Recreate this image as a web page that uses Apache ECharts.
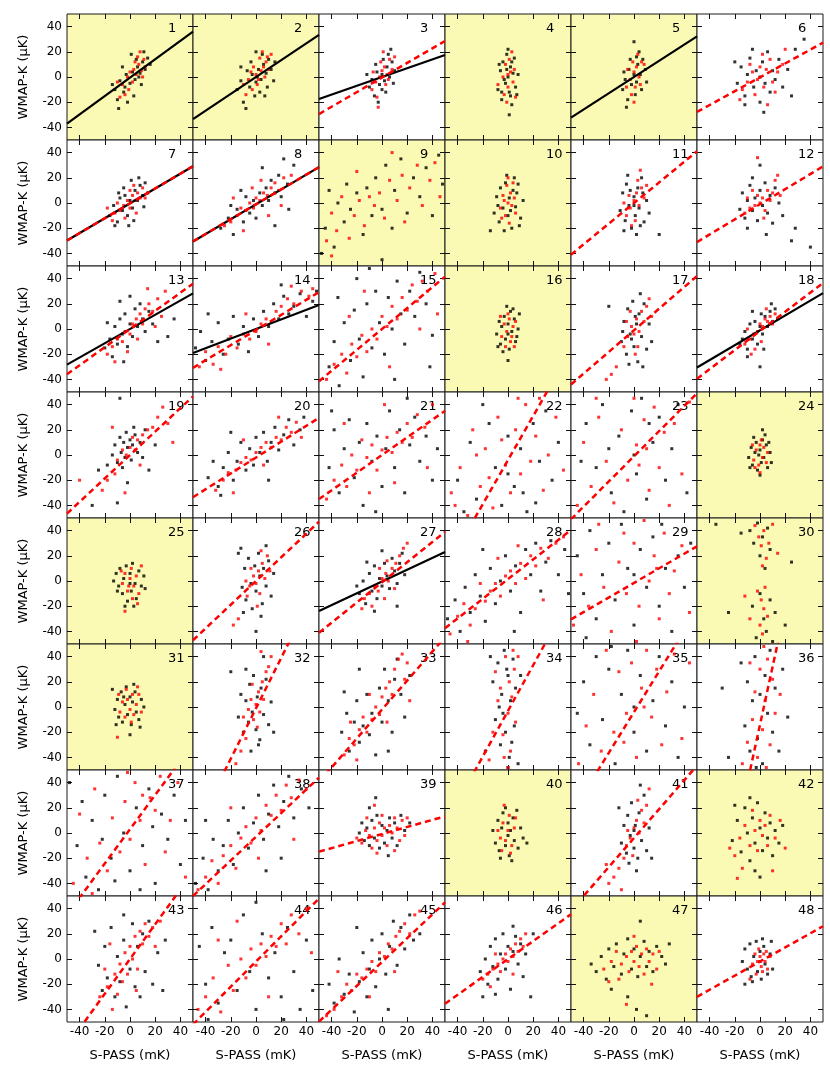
<!DOCTYPE html>
<html><head><meta charset="utf-8">
<script src="https://cdn.jsdelivr.net/npm/echarts@6/dist/echarts.min.js"></script>
<style>html,body{margin:0;padding:0;background:#fff}#c{width:830px;height:1068px}</style>
</head><body><div id="c"></div>
<script>
// ---- estimated point clouds, panel by panel (b = black, r = red) ----
const b1=[[-12,-10],[-8,-3],[-5,-12],[-3,2],[0,-5],[2,4],[4,-2],[6,8],[8,3],[10,12],[12,6],[14,15],[-10,-18],[-14,-6],[-2,-20],[3,-15],[5,14],[9,-6],[16,10],[-6,8],[1,18],[-9,-25],[11,20],[7,0],[-4,-8]];
const r1=[[-6,-6],[-2,0],[0,4],[3,6],[5,2],[7,10],[9,5],[11,14],[-4,-14],[-8,-16],[2,-4],[6,16],[12,8],[-1,-10],[4,12],[8,20],[-10,-4],[10,0]];
const b2=[[-15,-10],[-12,-3],[-10,-20],[-7,5],[-5,-8],[-3,2],[0,-4],[2,6],[4,-2],[6,10],[8,3],[10,14],[12,6],[15,12],[-8,-25],[-1,-15],[3,-12],[5,18],[9,-8],[-12,8],[0,20],[14,-3],[-4,12],[7,-15],[1,0]];
const r2=[[-10,-6],[-6,-2],[-3,-10],[0,2],[2,-2],[4,5],[6,8],[8,12],[10,6],[3,15],[-2,8],[5,20],[-8,-14],[12,18],[1,-6],[7,0],[-4,4],[9,16]];
const b3=[[-10,-8],[-8,-2],[-6,-15],[-4,4],[-2,-6],[0,2],[2,-3],[4,8],[6,0],[8,12],[10,5],[-3,-20],[5,18],[-12,2],[3,-12],[1,14],[9,-5],[-5,10],[7,22],[0,-10]];
const r3=[[-8,-10],[-5,-4],[-2,0],[0,5],[2,8],[4,2],[6,14],[8,6],[-4,-16],[3,-6],[-1,12],[10,16],[-7,4],[5,-2],[1,20],[-3,-24]];
const b4=[[-8,-10],[-6,5],[-5,-18],[-4,12],[-2,-5],[-1,18],[0,0],[1,-12],[2,8],[3,-22],[4,3],[5,15],[6,-8],[8,2],[-3,-2],[2,-15],[-7,10],[0,22],[7,-14],[-1,6],[3,12],[-5,-12],[1,-30]];
const r4=[[-4,0],[-2,10],[0,-8],[2,4],[4,-4],[-3,-14],[1,14],[3,20],[-1,-20],[5,6],[-8,-6],[0,2],[6,-16]];
const b5=[[-9,-10],[-7,-2],[-5,-18],[-4,6],[-2,-6],[0,2],[2,-4],[3,10],[5,2],[7,14],[9,6],[-6,-24],[1,-14],[4,20],[10,-4],[-3,14],[6,-10],[0,28],[-8,4],[2,16]];
const r5=[[-6,-8],[-3,-2],[0,4],[2,8],[4,0],[6,12],[-2,-14],[1,-8],[3,18],[-5,6],[5,-6],[8,10],[-1,12],[0,-20]];
const b6=[[-18,-5],[-15,8],[-12,-15],[-10,2],[-8,15],[-5,-8],[-3,5],[0,-20],[0,0],[2,12],[4,-5],[6,20],[8,-12],[10,5],[12,-2],[15,14],[18,-8],[22,6],[-6,22],[-12,-22],[3,-28],[28,22],[35,30],[25,-15],[-20,12]];
const r6=[[-14,-10],[-10,-4],[-6,4],[-2,-2],[0,8],[3,-8],[5,6],[8,14],[10,-4],[14,4],[-4,-14],[2,18],[12,-12],[-8,10],[18,10],[20,22],[-16,-18],[6,-22]];
const b7=[[-16,-10],[-13,-2],[-10,-15],[-8,4],[-6,-6],[-4,6],[-2,-10],[0,2],[2,-4],[4,10],[6,2],[8,14],[10,6],[12,16],[14,8],[-12,-18],[-5,12],[3,-14],[7,20],[-9,8],[1,18],[11,-3],[-1,-18]];
const r7=[[-12,-8],[-8,-6],[-5,-2],[-2,2],[0,-4],[2,6],[4,2],[6,8],[8,4],[10,12],[-10,0],[-4,-12],[3,14],[12,4],[0,10],[-14,-14],[5,-8],[-18,-4]];
const b8=[[-28,-20],[-22,-12],[-18,-25],[-15,-5],[-10,-15],[-8,5],[-5,-8],[-2,2],[0,-12],[3,8],[5,-2],[8,12],[10,2],[12,18],[15,8],[18,22],[20,5],[25,15],[30,30],[-12,10],[22,35],[15,-18],[-20,-2],[26,-5],[5,28]];
const r8=[[-25,-18],[-20,-15],[-15,-10],[-12,-4],[-8,-6],[-5,0],[-2,-4],[0,4],[3,2],[6,8],[9,6],[12,12],[15,16],[18,10],[22,20],[-10,-22],[4,18],[20,-2],[28,22],[-18,4],[10,-10],[-3,12]];
const b9=[[-45,-20],[-42,10],[-38,-35],[-35,0],[-30,-15],[-28,15],[-25,-5],[-20,8],[-15,-25],[-12,12],[-8,-10],[-5,20],[0,-5],[3,30],[8,-20],[10,10],[15,35],[20,-8],[25,20],[30,5],[35,28],[40,-10],[45,38],[-48,-40],[0,-45],[48,15]];
const r9=[[-44,-30],[-40,-8],[-36,-22],[-32,5],[-26,-28],[-22,-10],[-18,2],[-14,-18],[-10,5],[-6,-2],[-2,8],[2,-12],[6,18],[12,2],[16,22],[18,-15],[22,12],[28,30],[32,-2],[38,18],[42,32],[46,5],[-40,-42],[8,40],[-20,25]];
const b10=[[-11,-8],[-9,5],[-7,-15],[-6,12],[-4,-4],[-2,16],[0,-10],[1,4],[3,-20],[4,10],[6,-3],[8,15],[10,-12],[12,2],[-3,-22],[5,20],[-8,-2],[2,-6],[7,8],[-1,22],[-14,-22],[9,-18]];
const r10=[[-6,-4],[-4,6],[-2,-10],[0,0],[2,8],[3,-2],[5,4],[-1,14],[1,-16],[4,16],[-5,-12],[6,-8],[0,20],[-3,2]];
const b11=[[-11,-6],[-9,8],[-7,-14],[-6,15],[-4,-2],[-2,-20],[0,5],[1,-10],[3,12],[4,-4],[6,20],[8,-15],[10,2],[-5,22],[2,-25],[-8,-22],[7,8],[12,-8],[0,-2],[-3,10],[20,-25],[5,-18]];
const r11=[[-6,-10],[-3,-4],[0,2],[2,8],[4,-2],[6,12],[-4,6],[1,-14],[3,18],[8,4],[-8,0],[5,26],[-2,-18],[10,14]];
const b12=[[-16,-5],[-14,8],[-12,-12],[-10,2],[-8,14],[-6,-6],[-4,4],[-2,-14],[0,10],[2,-2],[4,16],[6,-8],[8,6],[10,-16],[12,12],[15,0],[18,-10],[-6,20],[0,30],[28,-20],[40,-35],[25,-30],[-10,-20],[5,-25]];
const r12=[[-12,-8],[-8,-4],[-4,-2],[-2,6],[0,0],[2,4],[4,-6],[6,10],[8,2],[10,8],[-6,10],[12,18],[-10,4],[3,-12],[14,22],[-2,36],[16,6]];
const b13=[[-20,-15],[-16,-8],[-14,-22],[-12,2],[-10,-12],[-8,8],[-6,-4],[-4,12],[-2,-14],[0,4],[2,-6],[4,16],[6,2],[8,20],[10,8],[12,-2],[15,14],[18,4],[-8,22],[0,26],[-5,-26],[30,-6],[35,8],[22,-10],[-18,5]];
const r13=[[-18,-20],[-14,-14],[-10,-8],[-6,-10],[-4,-2],[0,-4],[2,4],[5,8],[8,12],[10,4],[12,16],[15,20],[18,14],[22,24],[25,10],[28,30],[-2,-18],[6,-8],[-12,-26],[20,2],[14,32]];
const b14=[[-48,-15],[-44,-2],[-40,-25],[-35,-10],[-30,5],[-26,-20],[-22,-8],[-18,10],[-14,-12],[-10,2],[-6,-18],[-2,8],[2,-6],[6,14],[10,2],[14,20],[18,8],[22,26],[26,12],[30,18],[35,28],[40,10],[45,22],[-38,12],[20,35],[48,30]];
const r14=[[-45,-30],[-40,-18],[-34,-28],[-30,-14],[-24,-20],[-20,-6],[-15,-15],[-10,-4],[-5,-8],[0,-2],[4,4],[8,8],[12,6],[16,14],[20,18],[25,24],[30,20],[36,30],[42,26],[-28,-32],[10,-12],[28,34],[-8,12],[45,32]];
const b15=[[-42,-30],[-38,-10],[-34,-45],[-30,5],[-25,-25],[-22,15],[-18,-8],[-15,-38],[-12,20],[-8,-15],[-5,30],[-2,5],[2,-20],[5,25],[8,0],[12,38],[15,12],[18,-12],[22,30],[26,10],[30,45],[35,20],[40,-5],[-20,40],[10,-40],[-35,25],[38,-30],[-10,48]];
const r15=[[-44,-40],[-38,-28],[-32,-20],[-28,-35],[-24,-12],[-20,-22],[-16,-5],[-12,-18],[-8,0],[-4,-8],[0,10],[4,2],[8,18],[12,8],[16,25],[20,15],[24,35],[28,22],[32,38],[36,30],[42,44],[-26,10],[6,-30],[-14,30],[30,0],[44,12]];
const b16=[[-9,-4],[-7,6],[-6,-12],[-5,2],[-3,10],[-2,-8],[0,4],[1,-16],[2,14],[3,-2],[5,8],[6,-10],[8,0],[9,12],[-4,-18],[0,-4],[4,16],[-8,-14],[7,-6],[-1,18],[0,-25]];
const r16=[[-5,-6],[-3,4],[-1,-2],[1,8],[2,-10],[4,2],[-6,10],[3,-6],[0,12],[6,6],[-2,-14],[5,-14]];
const b17=[[-10,-10],[-8,6],[-6,-20],[-5,16],[-3,-4],[-1,22],[0,-14],[2,4],[3,-26],[4,12],[6,-6],[8,20],[10,-16],[12,4],[14,-10],[-4,-28],[5,28],[-9,-2],[1,10],[-20,18],[7,-30],[-2,-8]];
const r17=[[-8,-14],[-5,-6],[-2,2],[0,-4],[2,8],[4,-2],[6,14],[8,6],[10,18],[-3,14],[3,-14],[12,24],[-6,6],[1,-20],[-14,-30],[-18,-36],[-22,-40],[14,10]];
const b18=[[-14,-8],[-12,-2],[-10,-16],[-8,4],[-6,-8],[-4,6],[-2,-12],[0,2],[2,-4],[4,10],[6,2],[8,14],[10,6],[12,16],[14,8],[-6,14],[3,-16],[-10,-22],[9,20],[-16,-12],[0,-30],[1,12]];
const r18=[[-12,-12],[-8,-8],[-5,-4],[-2,-2],[0,4],[2,2],[4,8],[6,6],[8,10],[10,4],[-4,-16],[5,16],[-10,0],[12,12],[1,-10],[-7,-20]];
const b19=[[-14,0],[-12,8],[-10,-6],[-8,14],[-7,2],[-5,10],[-4,-2],[-3,18],[-2,6],[0,12],[1,-4],[2,8],[4,16],[6,2],[8,10],[10,-2],[-18,-8],[-25,-12],[-6,-10],[3,22],[-10,-38],[-30,-40],[12,20],[-2,-22],[20,8],[15,-12],[-8,45]];
const r19=[[-10,-4],[-6,4],[-3,0],[0,6],[2,14],[4,4],[6,12],[10,16],[14,20],[18,22],[22,30],[26,38],[-12,-15],[-18,-20],[-22,-28],[-14,22],[8,-8],[30,25],[-4,-30],[34,10],[-40,-20]];
const b20=[[-38,-18],[-34,-5],[-30,-25],[-26,-10],[-22,2],[-18,-20],[-15,-5],[-12,10],[-8,-12],[-5,5],[-2,-8],[0,14],[3,2],[6,18],[9,-5],[12,10],[15,22],[18,4],[22,16],[26,28],[30,8],[35,20],[-20,18],[10,-20],[-28,-32],[38,30]];
const r20=[[-32,-28],[-26,-20],[-22,-14],[-16,-12],[-12,-6],[-8,-2],[-4,-4],[0,2],[4,6],[8,10],[12,6],[16,14],[20,12],[24,22],[28,18],[32,26],[-18,-30],[6,-8],[-10,12],[18,30],[36,14]];
const b21=[[-42,-10],[-38,20],[-34,-30],[-30,5],[-26,28],[-22,-18],[-18,10],[-15,-40],[-12,25],[-8,-5],[-4,15],[0,-25],[3,5],[6,35],[10,-10],[14,20],[18,-30],[22,8],[26,30],[30,-5],[35,15],[40,-20],[44,5],[-40,35],[20,45],[-5,-45]];
const r21=[[-44,-35],[-38,-20],[-32,-8],[-28,-25],[-24,0],[-20,-12],[-16,12],[-12,-2],[-8,8],[-4,-12],[0,4],[4,14],[8,2],[12,18],[16,10],[20,25],[24,14],[28,32],[34,22],[40,40],[-30,25],[10,-22],[-10,-30],[36,-10],[2,40]];
const b22=[[-40,-20],[-30,10],[-25,-35],[-15,25],[-10,-10],[-5,-40],[0,15],[5,-25],[10,5],[15,-45],[20,25],[25,-5],[30,35],[35,-20],[40,10],[-35,-45],[12,-30],[-20,40],[0,-15],[22,-38]];
const r22=[[-45,-30],[-38,-10],[-32,-48],[-28,20],[-22,-25],[-18,5],[-12,-42],[-8,30],[-2,-8],[2,-30],[6,20],[10,-15],[14,40],[18,-5],[22,15],[28,-28],[32,0],[38,30],[44,-12],[-42,-40],[-15,-18],[8,45],[-25,0],[25,45],[-5,12]];
const b23=[[-38,25],[-30,-10],[-25,40],[-18,-30],[-12,15],[-8,-45],[-2,35],[2,-15],[6,45],[10,-35],[15,10],[20,30],[25,-20],[30,5],[35,40],[42,-30],[-42,-5],[-20,5],[0,0],[12,25]];
const r23=[[-45,-40],[-40,10],[-34,-25],[-28,30],[-22,-5],[-16,-38],[-10,20],[-5,-20],[0,45],[4,-8],[8,28],[12,-28],[16,38],[20,-10],[24,18],[28,-40],[32,25],[38,-15],[44,42],[-30,45],[2,8],[10,5]];
const b24=[[-9,-2],[-7,6],[-6,-8],[-4,2],[-3,10],[-2,-12],[0,4],[1,-6],[2,12],[3,-2],[5,8],[6,-10],[8,2],[9,-6],[-5,14],[0,-16],[4,16],[-8,-10],[7,10],[-1,0],[2,20]];
const r24=[[-5,-4],[-3,4],[-1,-8],[0,8],[2,-2],[3,6],[5,-6],[-4,-10],[1,12],[6,2],[-6,8],[0,-14]];
const b25=[[-13,0],[-11,6],[-9,-4],[-8,10],[-6,-10],[-5,2],[-3,12],[-2,-16],[0,6],[1,-8],[2,14],[4,-2],[5,-14],[7,8],[9,-4],[11,4],[-4,-20],[3,-20],[-10,-8],[12,-6],[0,-2]];
const r25=[[-6,-2],[-4,6],[-2,-8],[0,2],[1,10],[3,-4],[5,4],[7,-10],[-7,8],[2,-14],[-1,-4],[9,12],[-4,-24],[6,-18]];
const b26=[[-11,-5],[-9,10],[-8,-15],[-6,18],[-4,-2],[-3,-22],[-1,12],[0,-8],[2,22],[3,4],[5,-18],[6,10],[8,-4],[10,16],[12,-12],[14,6],[-10,-25],[4,-28],[-14,22],[-12,26],[8,28],[0,-40]];
const r26=[[-7,-12],[-5,-4],[-2,4],[0,-2],[2,8],[3,-10],[5,14],[7,2],[9,20],[-4,10],[1,-20],[11,8],[-8,0],[4,24],[-14,-30],[-18,-35]];
const b27=[[-18,-10],[-15,0],[-13,-18],[-10,6],[-8,-8],[-6,12],[-4,-14],[-2,2],[0,-4],[2,14],[4,4],[6,-6],[8,18],[10,8],[12,-2],[14,14],[16,22],[-12,15],[0,24],[-6,-24],[18,5],[12,-20],[-20,-4]];
const r27=[[-14,-14],[-10,-10],[-6,-4],[-3,-8],[0,2],[3,6],[5,0],[8,10],[11,14],[14,20],[17,26],[20,30],[-8,-20],[4,16],[-16,-22],[10,-6],[2,-14],[-2,10]];
const b28=[[-48,-30],[-42,-15],[-38,-40],[-34,-5],[-30,-25],[-26,5],[-22,-12],[-18,-32],[-14,10],[-10,-18],[-6,0],[-2,20],[2,-8],[6,12],[10,-25],[14,25],[18,5],[22,30],[26,-8],[30,15],[34,32],[40,5],[45,25],[-20,25],[5,-40],[48,-10]];
const r28=[[-46,-42],[-40,-28],[-35,-18],[-30,-35],[-26,-22],[-22,-2],[-18,-16],[-14,-8],[-10,-2],[-6,-12],[-2,4],[2,8],[6,-2],[10,14],[14,2],[18,20],[22,12],[26,26],[32,18],[38,30],[44,35],[-32,-48],[8,28],[-8,18],[28,-15]];
const b29=[[-45,20],[-40,-10],[-35,40],[-30,-30],[-25,5],[-20,30],[-15,-15],[-10,45],[-5,10],[0,-35],[5,25],[10,-5],[15,35],[20,-20],[25,10],[30,-40],[35,20],[40,-5],[45,30],[-38,-45],[0,5],[22,45]];
const r29=[[-48,-35],[-42,5],[-36,-20],[-30,25],[-24,-5],[-18,-40],[-12,15],[-6,-10],[0,30],[4,-20],[8,48],[12,0],[16,20],[20,-30],[24,38],[28,-10],[32,8],[38,28],[44,-25],[-28,45],[2,-48],[18,10],[-8,38]];
const b30=[[-8,40],[-5,30],[-2,46],[0,20],[2,35],[4,10],[6,42],[8,25],[-6,-20],[0,-10],[3,-30],[5,-40],[8,-15],[-3,-45],[12,-25],[-15,38],[20,-35],[-25,-25],[25,15],[-35,45],[10,-48]];
const r30=[[-4,44],[-1,35],[1,28],[3,40],[5,18],[7,30],[2,12],[-2,-8],[1,-15],[3,-22],[4,-5],[6,-28],[0,-35],[2,-42],[10,45],[-8,-30],[14,22],[-12,-12]];
const b31=[[-12,-2],[-10,6],[-9,-8],[-7,12],[-6,-12],[-4,2],[-3,16],[-2,-6],[0,8],[1,-14],[2,4],[4,12],[5,-4],[7,-10],[9,6],[11,0],[-5,8],[3,18],[8,-16],[-11,-14],[0,-22],[-14,14]];
const r31=[[-8,-4],[-6,4],[-4,-8],[-2,6],[0,-2],[2,10],[3,-6],[5,2],[7,10],[-3,14],[1,-12],[9,-4],[6,16],[-9,10],[-10,-24]];
const b32=[[-14,-8],[-12,10],[-10,-20],[-8,5],[-6,-12],[-5,18],[-3,-4],[-2,25],[0,-18],[1,8],[3,-26],[4,15],[6,-6],[8,22],[10,-14],[12,4],[-8,30],[2,-30],[14,-20],[-20,28],[6,40],[-4,-35]];
const r32=[[-10,-8],[-6,-2],[-4,6],[-2,-10],[0,2],[2,12],[3,-4],[5,20],[6,6],[8,28],[-3,18],[1,-16],[10,32],[12,40],[-12,-35],[-16,-45],[-8,-25],[4,44]];
const b33=[[-32,-20],[-28,-5],[-26,-35],[-22,-12],[-20,5],[-18,-28],[-15,-15],[-12,10],[-10,-22],[-8,-5],[-5,-38],[-2,15],[0,-12],[2,30],[5,5],[8,-20],[10,22],[12,38],[15,10],[18,-8],[-18,30],[22,25],[-30,12],[5,-35]];
const r33=[[-30,-38],[-26,-25],[-22,-30],[-18,-18],[-15,-8],[-12,-20],[-8,-10],[-5,0],[-2,-6],[0,8],[3,15],[6,20],[8,10],[10,30],[13,38],[16,42],[18,22],[-20,-42],[-10,10],[4,-12],[-25,-12],[20,35],[22,5]];
const b34=[[-12,20],[-10,-10],[-8,35],[-6,-30],[-5,10],[-3,45],[-2,-20],[0,25],[1,-40],[2,5],[4,38],[5,-15],[6,15],[8,-45],[-4,-5],[-7,0],[-1,30],[3,-28],[-14,40],[10,25],[0,-48],[-18,-35]];
const r34=[[-10,28],[-6,15],[-4,-22],[-2,40],[0,-5],[1,20],[2,-35],[3,8],[5,30],[-3,-40],[6,-12],[-8,5],[4,45],[0,-48],[-15,-42],[8,40],[-12,-20]];
const b35=[[-40,20],[-35,-30],[-30,40],[-25,-10],[-20,30],[-15,-45],[-10,10],[-5,45],[0,-20],[5,25],[10,-35],[15,5],[20,40],[25,-15],[30,20],[35,-40],[40,0],[-45,-5],[0,0],[-18,48]];
const r35=[[-44,-45],[-38,-15],[-32,10],[-26,-35],[-22,45],[-16,-20],[-12,28],[-6,-5],[-2,35],[2,-40],[6,15],[10,45],[14,-8],[18,30],[22,-30],[26,12],[32,42],[38,-25],[44,35],[-8,-28],[8,0]];
const b36=[[-12,-15],[-10,20],[-8,-35],[-6,5],[-4,40],[-2,-25],[0,10],[2,-45],[4,25],[6,-5],[8,45],[10,-20],[12,15],[15,-35],[18,30],[-15,35],[-25,-40],[-30,15],[22,-8],[-3,-48]];
const r36=[[-10,-28],[-6,-10],[-4,12],[-2,-40],[0,30],[2,-18],[4,5],[6,38],[8,-30],[10,22],[3,48],[-8,35],[12,-5],[16,10],[-14,-45],[5,-48]];
const b37=[[-48,40],[-42,-10],[-38,25],[-35,-35],[-30,10],[-25,-45],[-20,30],[-15,-20],[-10,45],[-5,0],[0,-30],[5,20],[10,-10],[15,35],[20,-40],[25,15],[30,-5],[35,30],[40,-25],[44,10],[-22,-5],[-12,-38],[8,-45],[18,5]];
const r37=[[-45,-40],[-40,15],[-34,-20],[-28,35],[-24,-8],[-18,-30],[-14,12],[-8,-15],[-4,25],[0,-5],[4,40],[8,10],[12,-25],[16,28],[20,18],[24,45],[28,-15],[32,10],[38,40],[44,-35],[-30,-48],[-2,48],[10,30]];
const b38=[[-48,-40],[-42,-20],[-38,-45],[-34,-5],[-30,-30],[-26,-10],[-22,10],[-18,-25],[-14,0],[-10,20],[-6,-12],[-2,8],[2,30],[6,-5],[10,15],[14,38],[18,5],[22,25],[26,45],[30,12],[36,35],[42,20],[-40,10],[8,-30],[20,-20]];
const r38=[[-46,-45],[-40,-35],[-35,-22],[-30,-40],[-26,-18],[-20,-10],[-16,-28],[-12,-4],[-8,5],[-4,-8],[0,12],[4,2],[8,22],[12,14],[16,30],[20,18],[24,38],[28,28],[34,42],[40,35],[-20,20],[2,-20],[30,-5]];
const b39=[[-18,0],[-16,8],[-14,-6],[-12,4],[-10,-10],[-8,10],[-6,-4],[-4,14],[-2,-12],[0,6],[2,-8],[4,2],[6,12],[8,-4],[10,8],[12,-10],[15,14],[18,2],[-10,20],[5,-18],[22,8],[-5,28]];
const r39=[[-20,-4],[-16,-8],[-13,2],[-10,-2],[-8,-12],[-6,4],[-4,-6],[-2,8],[0,-2],[2,4],[4,-10],[6,6],[8,0],[10,12],[12,4],[14,-6],[16,10],[18,-2],[-12,12],[0,14],[-4,-16],[10,-14],[20,12],[-6,22]];
const b40=[[-12,2],[-10,-8],[-8,10],[-7,-14],[-5,4],[-4,16],[-2,-10],[0,8],[1,-18],[2,2],[4,12],[5,-6],[7,18],[8,-12],[10,4],[-6,-20],[3,-22],[-2,20],[12,-4],[15,-8],[0,-2]];
const r40=[[-6,-4],[-4,8],[-2,-6],[0,2],[1,14],[3,-10],[5,4],[-5,-14],[2,-16],[6,12],[-3,22],[-8,2]];
const b41=[[-10,-8],[-8,6],[-6,-16],[-5,14],[-3,-2],[-2,24],[0,-12],[1,6],[3,-20],[4,16],[6,-6],[8,30],[10,-14],[12,4],[-4,-24],[5,38],[-12,20],[2,-30],[14,-20],[0,2]];
const r41=[[-6,-10],[-3,-4],[0,4],[2,10],[4,0],[6,18],[8,8],[-1,-18],[3,26],[10,22],[-8,-20],[-12,-28],[-16,-35],[-20,-40],[-5,2],[12,35],[-10,-45],[-22,-25]];
const b42=[[-22,-6],[-18,10],[-15,-15],[-12,20],[-10,0],[-8,-22],[-6,12],[-4,-8],[-2,24],[0,4],[2,-14],[4,16],[6,-4],[8,8],[10,-18],[12,2],[15,-8],[18,6],[-8,28],[-4,-30],[-20,22],[0,-35]];
const r42=[[-24,-12],[-20,-18],[-16,-4],[-12,6],[-8,-10],[-4,2],[-2,-14],[0,10],[2,-2],[4,6],[6,-10],[8,14],[12,-4],[16,10],[-14,-28],[-6,18],[20,-12],[10,-30],[-18,-36]];
const b43=[[-28,22],[-25,-5],[-22,-25],[-20,10],[-18,-15],[-15,25],[-12,-30],[-10,2],[-8,-18],[-5,15],[-3,-38],[0,-8],[2,28],[4,-22],[6,10],[8,-30],[10,20],[12,-10],[15,30],[18,-20],[22,5],[26,-25],[-5,35],[28,15]];
const r43=[[-24,-30],[-18,-22],[-14,-40],[-12,-12],[-10,-28],[-8,-4],[-6,-18],[-4,5],[-2,-12],[0,10],[2,0],[4,18],[6,-8],[8,22],[10,12],[12,28],[15,18],[18,25],[20,10],[24,30],[-16,12],[5,-25],[-20,-8]];
const b44=[[-45,10],[-40,-20],[-35,25],[-30,-35],[-25,5],[-20,15],[-15,-25],[-10,35],[-5,-10],[0,-40],[5,20],[10,-15],[15,5],[20,-30],[25,25],[30,-10],[35,-40],[40,15],[45,-25],[-38,-48],[0,45],[22,-48]];
const r44=[[-46,-40],[-40,-30],[-34,-15],[-28,-42],[-22,-5],[-18,-25],[-12,0],[-8,-15],[-4,8],[0,-5],[4,12],[8,2],[12,18],[16,10],[20,28],[24,12],[28,35],[34,20],[40,40],[-30,15],[10,-30],[-15,30],[44,5]];
const b45=[[-42,-20],[-38,-35],[-34,0],[-30,-28],[-26,-12],[-22,-42],[-18,-18],[-15,5],[-12,-30],[-10,-8],[-8,15],[-5,-22],[-2,0],[0,20],[3,-12],[6,10],[9,30],[12,-5],[15,25],[18,8],[22,35],[25,15],[-20,25],[5,-40],[30,20]];
const r45=[[-44,-45],[-38,-40],[-32,-30],[-28,-20],[-24,-25],[-20,-12],[-16,-15],[-12,-8],[-8,-2],[-5,-10],[-2,5],[2,2],[5,12],[8,8],[11,18],[14,22],[18,28],[22,20],[26,35],[30,38],[-10,-30],[10,-10],[-35,-10]];
const b46=[[-22,-10],[-18,0],[-16,-20],[-14,10],[-12,-6],[-10,16],[-8,-16],[-6,4],[-4,20],[-2,-8],[0,10],[2,-24],[4,6],[6,18],[8,-4],[10,12],[12,-14],[14,4],[-10,-28],[4,26],[18,-30],[20,20],[-20,-30]];
const r46=[[-20,-16],[-16,-12],[-12,-8],[-8,-4],[-6,-10],[-4,0],[-2,4],[0,-2],[2,8],[4,2],[6,12],[8,6],[10,16],[12,10],[-14,-22],[14,20],[-10,4],[4,-12]];
const b47=[[-30,-10],[-26,2],[-22,-16],[-20,8],[-16,-6],[-14,12],[-10,-12],[-8,4],[-5,16],[-2,-8],[0,8],[3,-14],[5,2],[8,14],[10,-6],[12,6],[15,-10],[18,10],[22,2],[25,-4],[28,12],[-34,-4],[-18,-24],[5,30],[2,-40],[-5,-30],[10,-45]];
const r47=[[-24,-8],[-18,-2],[-14,6],[-10,-4],[-6,2],[-4,-10],[-2,6],[0,-2],[2,10],[4,-6],[6,4],[8,-12],[10,8],[12,-2],[15,4],[18,-8],[20,6],[-12,-16],[0,18],[-20,-18],[-6,-36],[14,-20]];
const b48=[[-14,-2],[-12,8],[-10,-8],[-8,12],[-7,-14],[-5,2],[-3,14],[-2,-10],[0,6],[1,-16],[3,10],[4,-4],[6,-12],[8,4],[10,-8],[-6,-18],[2,16],[-12,-20],[9,14],[0,-2]];
const r48=[[-6,-4],[-4,4],[-2,-2],[0,2],[1,-6],[3,4],[4,-2],[5,6],[-1,8],[2,-10],[6,-8],[-8,-16],[8,2],[-3,-12]];

// ---- fitted lines: [panel, slope, intercept] ----
const blackFits=[[1,0.73,-0.5],[2,0.67,0],[3,0.35,0],[5,0.645,0],[7,0.59,-0.3],[8,0.59,-1],[13,0.565,0],[14,0.38,0],[18,0.59,-1],[27,0.47,-0.4]];
const redFits=[[3,0.58,-0.4],[6,0.55,-0.25],[7,0.59,-0.3],[8,0.59,-1],[11,0.82,0],[12,0.6,-1],[13,0.72,0],[14,0.6,-0.8],[15,0.83,0],[17,0.86,-1],[18,0.76,-1.5],[19,0.93,0],[20,0.63,-2],[21,0.7,0],[22,1.75,-4],[23,1.0,-1],[26,0.94,0],[27,0.8,-1],[28,0.78,1.5],[29,0.58,-1.5],[32,2.0,-1],[33,1.15,-2],[34,1.81,-3],[35,1.62,-4],[36,4.6,-14],[37,1.36,3],[38,0.94,-3],[39,0.28,-0.8],[41,1.15,-4],[43,1.38,0],[44,1.0,-2],[45,0.946,-2.4],[46,0.71,0],[48,0.56,-2]];

const yellowPanels=[1,2,4,5,9,10,16,24,25,30,31,40,42,47];
const tickValues=[-40,-20,0,20,40];
const tickLabels=['-40','-20','0','20','40'];
const axisMin=-50, axisMax=50;
const xTitle='S-PASS (mK)';
const yTitle='WMAP-K (µK)';

const blackPts=[b1,b2,b3,b4,b5,b6,b7,b8,b9,b10,b11,b12,b13,b14,b15,b16,b17,b18,b19,b20,b21,b22,b23,b24,b25,b26,b27,b28,b29,b30,b31,b32,b33,b34,b35,b36,b37,b38,b39,b40,b41,b42,b43,b44,b45,b46,b47,b48];
const redPts=[r1,r2,r3,r4,r5,r6,r7,r8,r9,r10,r11,r12,r13,r14,r15,r16,r17,r18,r19,r20,r21,r22,r23,r24,r25,r26,r27,r28,r29,r30,r31,r32,r33,r34,r35,r36,r37,r38,r39,r40,r41,r42,r43,r44,r45,r46,r47,r48];

// ---- layout ----
const FONT='DejaVu Sans';
const L0=67, T0=14, W=126, H=126, NC=6, NR=8;
const grids=[], xAxes=[], yAxes=[], series=[], graphics=[];
const fmt=v=>{const k=tickValues.indexOf(v);return k<0?'':tickLabels[k];};
function tickCfg(){return {show:true,inside:true,length:5,customValues:tickValues,lineStyle:{color:'#111',width:1}};}
for(let i=0;i<48;i++){
  const c=i%NC, r=Math.floor(i/NC), p=i+1;
  const left=L0+W*c, top=T0+H*r;
  grids.push({left:left,top:top,width:W,height:H,show:true,
    backgroundColor: yellowPanels.includes(p)?'#fafab4':'#ffffff',
    borderColor:'#1a1a1a',borderWidth:1});
  const base={type:'value',gridIndex:i,min:axisMin,max:axisMax,splitLine:{show:false},
    axisLine:{show:false,onZero:false}};
  xAxes.push(Object.assign({},base,{position:'bottom',axisTick:tickCfg(),
    axisLabel:{show:r===NR-1,customValues:tickValues,formatter:fmt,fontSize:12,color:'#000',margin:4,fontFamily:FONT},
    name:r===NR-1?xTitle:'',nameLocation:'middle',nameGap:27,
    nameTextStyle:{fontSize:13,color:'#000',fontFamily:FONT}}));
  xAxes.push(Object.assign({},base,{position:'top',axisTick:tickCfg(),axisLabel:{show:false}}));
  yAxes.push(Object.assign({},base,{position:'left',axisTick:tickCfg(),
    axisLabel:{show:c===0,customValues:tickValues,formatter:fmt,fontSize:12,color:'#000',margin:5,fontFamily:FONT},
    name:c===0?yTitle:'',nameLocation:'middle',nameGap:37,nameRotate:90,
    nameTextStyle:{fontSize:13,color:'#000',fontFamily:FONT}}));
  yAxes.push(Object.assign({},base,{position:'right',axisTick:tickCfg(),axisLabel:{show:false}}));
  const xi=2*i, yi=2*i;
  series.push({type:'scatter',xAxisIndex:xi,yAxisIndex:yi,data:blackPts[i],symbol:'rect',symbolSize:3,
    itemStyle:{color:'#000'},silent:true,clip:true,z:2});
  series.push({type:'scatter',xAxisIndex:xi,yAxisIndex:yi,data:redPts[i],symbol:'rect',symbolSize:3,
    itemStyle:{color:'#ff0000'},silent:true,clip:true,z:3});
  const bf=blackFits.find(f=>f[0]===p);
  if(bf){
    series.push({type:'line',xAxisIndex:xi,yAxisIndex:yi,symbol:'none',clip:true,silent:true,z:4,
      data:[[axisMin,bf[1]*axisMin+bf[2]],[axisMax,bf[1]*axisMax+bf[2]]],
      lineStyle:{color:'#000',width:2.2}});
  }
  const rf=redFits.find(f=>f[0]===p);
  if(rf){
    series.push({type:'line',xAxisIndex:xi,yAxisIndex:yi,symbol:'none',clip:true,silent:true,z:5,
      data:[[axisMin,rf[1]*axisMin+rf[2]],[axisMax,rf[1]*axisMax+rf[2]]],
      lineStyle:{color:'#ff0000',width:2.5,type:[6,4]}});
  }
  graphics.push({type:'text',left:left+101,top:top+8,z:1,
    style:{text:String(p),fontSize:13,fill:'#000',fontFamily:FONT}});
}
const chart=echarts.init(document.getElementById('c'),null,{renderer:'canvas'});
chart.setOption({animation:false,backgroundColor:'#fff',grid:grids,xAxis:xAxes,yAxis:yAxes,series:series,graphic:graphics});
</script></body></html>
